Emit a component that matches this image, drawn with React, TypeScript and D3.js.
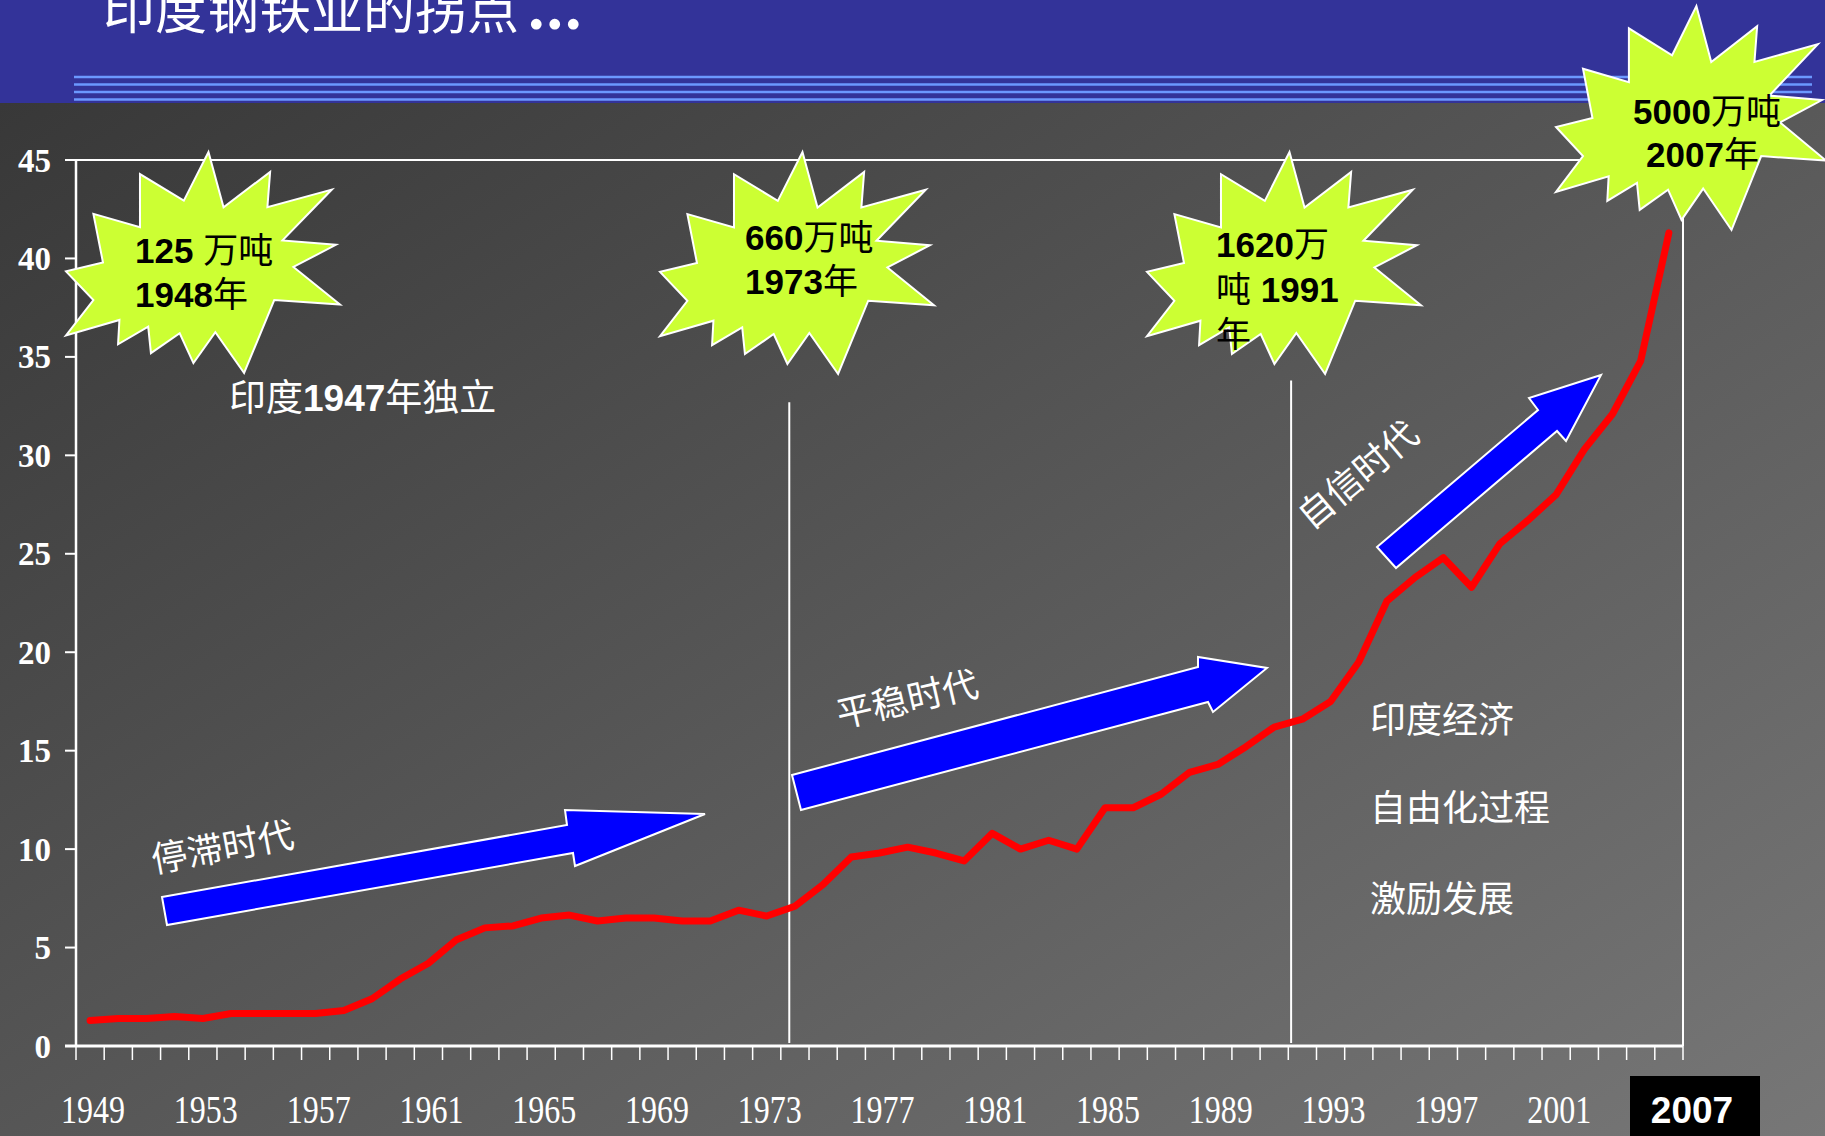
import * as d3 from 'd3'

// India crude steel output, million tonnes, 1949-2005
const years = d3.range(1949, 2006).map(String)
const output = [
  1.3, 1.4, 1.4, 1.5, 1.4, 1.65, 1.65, 1.65, 1.65, 1.8,
  2.4, 3.4, 4.2, 5.4, 6.0, 6.1, 6.5, 6.65, 6.35, 6.5,
  6.5, 6.35, 6.35, 6.9, 6.6, 7.1, 8.2, 9.6, 9.8, 10.1,
  9.8, 9.4, 10.8, 10.0, 10.45, 10.0, 12.1, 12.1, 12.8, 13.9,
  14.3, 15.2, 16.2, 16.6, 17.5, 19.5, 22.6, 23.8, 24.8, 23.3,
  25.5, 26.7, 28.0, 30.3, 32.1, 34.8, 41.3,
]
const yTicks = [0, 5, 10, 15, 20, 25, 30, 35, 40, 45]
const yearLabels = ['1949', '1953', '1957', '1961', '1965', '1969', '1973', '1977', '1981', '1985', '1989', '1993', '1997', '2001']
const lastLabel = '2007'

const title = '印度钢铁业的拐点'
const milestones = [
  ['125 万吨', '1948年'],
  ['660万吨', '1973年'],
  ['1620万', '吨 1991', '年'],
  ['5000万吨', '2007年'],
]
const eras = ['停滞时代', '平稳时代', '自信时代']
const independence = '印度1947年独立'
const reformNotes = ['印度经济', '自由化过程', '激励发展']
// years (fractional) where the white divider lines stand, and their top value
const dividers = [
  { year: 1973.8, top: 32.7 },
  { year: 1991.6, top: 33.8 },
]

// layout
const W = 1825
const H = 1136
const plot = { left: 76, right: 1683, top: 160, bottom: 1046 }

// shape of the "explosion" callout, unit box
const star = [
  [0.52, 0.0], [0.575, 0.25], [0.745, 0.09], [0.735, 0.25], [0.97, 0.17], [0.79, 0.4],
  [0.985, 0.42], [0.83, 0.52], [1.0, 0.69], [0.76, 0.67], [0.65, 1.0], [0.545, 0.815],
  [0.465, 0.955], [0.415, 0.82], [0.31, 0.91], [0.3, 0.79], [0.19, 0.87], [0.195, 0.76],
  [0.0, 0.83], [0.1, 0.67], [0.0, 0.54], [0.135, 0.5], [0.1, 0.28], [0.27, 0.34],
  [0.27, 0.1], [0.43, 0.22],
]
const starBoxes = [
  { x: 66, y: 152, w: 274, h: 221, tx: [135, 135], ty: [263, 307] },
  { x: 660, y: 152, w: 274, h: 222, tx: [745, 745], ty: [250, 294] },
  { x: 1147, y: 152, w: 274, h: 222, tx: [1216, 1216, 1216], ty: [257, 302, 347] },
  { x: 1556, y: 6, w: 270, h: 224, tx: [1633, 1646], ty: [124, 167] },
]
const arrows = [
  [[162, 897], [567, 825], [565, 810], [705, 814], [575, 866], [573, 853], [167, 925]],
  [[792, 775], [1198, 667], [1198, 657], [1267, 668], [1213, 712], [1208, 702], [801, 810]],
  [[1377, 547], [1538, 410], [1529, 398], [1601, 375], [1566, 441], [1557, 431], [1396, 568]],
]
const eraLabels = [
  { x: 154, y: 873, rot: -10.5, size: 36 },
  { x: 840, y: 728, rot: -13, size: 36 },
  { x: 1311, y: 531, rot: -40, size: 36 },
]

const CJK = '"Noto Sans CJK SC", sans-serif'
const SANS = '"Liberation Sans", Arial, sans-serif'
const SERIF = '"Liberation Serif", "Times New Roman", serif'

function mixed(str: string, digitFont: string) {
  return str
    .split(/([\u4e00-\u9fff]+)/)
    .filter(Boolean)
    .map((s, i) =>
      /[\u4e00-\u9fff]/.test(s) ? (
        <tspan key={i} fontFamily={CJK} fontWeight={400}>{s}</tspan>
      ) : (
        <tspan key={i} fontFamily={digitFont} fontWeight={700}>{s}</tspan>
      )
    )
}

export default function App() {
  const x = d3.scaleBand<string>().domain(years).range([plot.left, plot.right])
  const bw = x.bandwidth()
  const cx = (yr: string) => (x(yr) ?? 0) + bw / 2
  const xYear = d3.scaleLinear().domain([1949, 2005]).range([cx('1949'), cx('2005')])
  const y = d3.scaleLinear().domain([0, 45]).range([plot.bottom, plot.top])

  const line = d3
    .line<number>()
    .x((_, i) => cx(years[i]))
    .y(d => y(d))

  const tickXs = years.map(yr => x(yr) ?? 0).concat([plot.right])

  return (
    <>
      <style>{`html,body{margin:0;padding:0;overflow:hidden}svg{display:block}`}</style>
      <svg width={W} height={H} viewBox={`0 0 ${W} ${H}`} style={{ whiteSpace: 'pre' }}>
        <defs>
          <linearGradient id="bg" x1="0" y1="0" x2="1" y2="1">
            <stop offset="0" stopColor="#353535" />
            <stop offset="1" stopColor="#777777" />
          </linearGradient>
        </defs>
        <rect width={W} height={H} fill="url(#bg)" />

        {/* header */}
        <rect width={W} height={103} fill="#333399" />
        {[77, 84.5, 92, 99.5].map(ly => (
          <line key={ly} x1={74} x2={1812} y1={ly} y2={ly} stroke="#6b98ff" strokeWidth={2.5} />
        ))}
        <text x={103} y={29} fill="#ffffff" fontFamily={CJK} fontSize={52}>
          {title}
          <tspan fontFamily={SERIF} fontWeight={700} fontSize={66} dx={9} letterSpacing={2}>...</tspan>
        </text>

        {/* frame */}
        <g stroke="#ffffff" fill="none">
          <line x1={plot.left} x2={plot.right} y1={plot.top} y2={plot.top} strokeWidth={2} />
          <line x1={plot.right} x2={plot.right} y1={plot.top} y2={plot.bottom} strokeWidth={2} />
          <line x1={plot.left} x2={plot.left} y1={plot.top} y2={plot.bottom} strokeWidth={2.5} />
          <line x1={plot.left - 11} x2={plot.right} y1={plot.bottom} y2={plot.bottom} strokeWidth={3} />
          {yTicks.map(t => (
            <line key={t} x1={plot.left - 11} x2={plot.left} y1={y(t)} y2={y(t)} strokeWidth={2} />
          ))}
          {tickXs.map((tx, i) => (
            <line key={i} x1={tx} x2={tx} y1={plot.bottom} y2={plot.bottom + 14} strokeWidth={1.5} />
          ))}
        </g>

        {yTicks.map(t => (
          <text
            key={t}
            x={51}
            y={y(t)}
            dy="0.35em"
            textAnchor="end"
            fill="#ffffff"
            fontFamily={SERIF}
            fontWeight={700}
            fontSize={33}
          >
            {t}
          </text>
        ))}

        {yearLabels.map(yr => (
          <text
            key={yr}
            transform={`translate(${cx(yr) + 3},1123) scale(0.8,1)`}
            textAnchor="middle"
            fill="#ffffff"
            fontFamily={SERIF}
            fontSize={40}
          >
            {yr}
          </text>
        ))}
        <rect x={1630} y={1076} width={130} height={H - 1076} fill="#000000" />
        <text x={1692} y={1123} textAnchor="middle" fill="#ffffff" fontFamily={SANS} fontWeight={700} fontSize={37}>
          {lastLabel}
        </text>

        {/* dividers */}
        {dividers.map(d => (
          <line
            key={d.year}
            x1={xYear(d.year)}
            x2={xYear(d.year)}
            y1={y(d.top)}
            y2={plot.bottom - 3}
            stroke="#ffffff"
            strokeWidth={2}
          />
        ))}

        {/* series */}
        <path d={line(output) ?? ''} fill="none" stroke="#ff0000" strokeWidth={7} strokeLinejoin="round" strokeLinecap="round" />

        {/* era arrows */}
        {arrows.map((pts, i) => (
          <polygon key={i} points={pts.map(p => p.join(',')).join(' ')} fill="#0000ff" stroke="#ffffff" strokeWidth={2} />
        ))}
        {eras.map((t, i) => {
          const l = eraLabels[i]
          return (
            <text
              key={t}
              x={l.x}
              y={l.y}
              transform={`rotate(${l.rot},${l.x},${l.y})`}
              fill="#ffffff"
              fontFamily={CJK}
              fontSize={l.size}
            >
              {t}
            </text>
          )
        })}

        <text x={229} y={411} fill="#ffffff" fontSize={37}>
          {mixed(independence, SANS)}
        </text>

        {reformNotes.map((t, i) => (
          <text key={t} x={1370} y={[733, 821, 912][i]} fill="#ffffff" fontFamily={CJK} fontSize={36}>
            {t}
          </text>
        ))}

        {/* callouts */}
        {starBoxes.map((b, i) => (
          <g key={i}>
            <polygon
              points={star.map(([u, v]) => `${b.x + u * b.w},${b.y + v * b.h}`).join(' ')}
              fill="#ccff33"
              stroke="#ffffff"
              strokeWidth={2}
            />
            {milestones[i].map((t, j) => (
              <text key={j} x={b.tx[j]} y={b.ty[j]} fill="#000000" fontSize={35}>
                {mixed(t, SANS)}
              </text>
            ))}
          </g>
        ))}
      </svg>
    </>
  )
}
